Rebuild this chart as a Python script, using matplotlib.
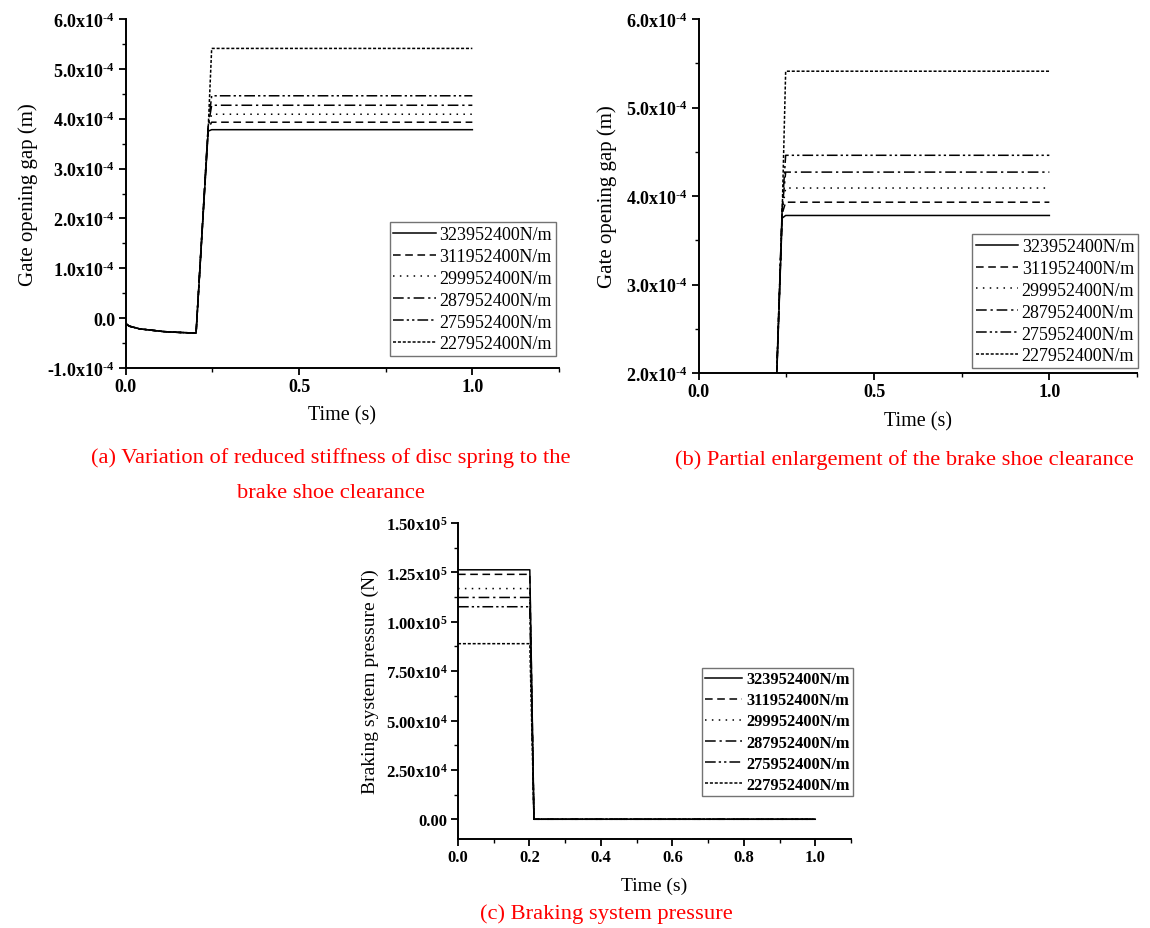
import matplotlib
matplotlib.use("Agg")
import matplotlib.pyplot as plt
from matplotlib.ticker import FixedLocator, MultipleLocator

plt.rcParams['font.family'] = ['Liberation Serif', 'DejaVu Serif']
plt.rcParams['mathtext.fontset'] = 'custom'
plt.rcParams['mathtext.rm'] = 'Liberation Serif'
plt.rcParams['mathtext.it'] = 'Liberation Serif:italic'
plt.rcParams['mathtext.bf'] = 'Liberation Serif:bold'

# ---------------- data ----------------
labels = ["323952400N/m", "311952400N/m", "299952400N/m",
          "287952400N/m", "275952400N/m", "227952400N/m"]

# gap: common pre-release phase (m)
t_pre = [0.0, 0.01, 0.04, 0.11, 0.15, 0.203]
gap_pre = [-0.11e-4, -0.16e-4, -0.215e-4, -0.27e-4, -0.285e-4, -0.30e-4]
# rise and steady
t_rise = [0.238, 0.248, 1.0]
gap_mid = [3.75e-4, 3.80e-4, 3.82e-4, 3.85e-4, 3.85e-4, 3.80e-4]
gap_steady = [3.78e-4, 3.93e-4, 4.09e-4, 4.27e-4, 4.46e-4, 5.41e-4]

# braking pressure (N)
t_press = [0.0, 0.201, 0.2126, 1.0]
press_hold = [1.263e5, 1.240e5, 1.168e5, 1.123e5, 1.076e5, 0.889e5]

styles = [
    dict(linestyle='-'),
    dict(linestyle=(0, (5, 3))),
    dict(linestyle=(0, (1, 3.5))),
    dict(linestyle=(0, (7, 2.5, 1.5, 2.5))),
    dict(linestyle=(0, (7, 2, 1.5, 2, 1.5, 2))),
    dict(linestyle=(0, (2, 1.2))),
]

E4 = "x10$^{\\mathbf{\u2010 4}}$"
ytick_a = [-1e-4, 0, 1e-4, 2e-4, 3e-4, 4e-4, 5e-4, 6e-4]
ytick_a_lab = ["-1.0" + E4, "0.0", "1.0" + E4, "2.0" + E4, "3.0" + E4, "4.0" + E4, "5.0" + E4, "6.0" + E4]
ytick_b = [2e-4, 3e-4, 4e-4, 5e-4, 6e-4]
ytick_b_lab = ["2.0" + E4, "3.0" + E4, "4.0" + E4, "5.0" + E4, "6.0" + E4]
ytick_c = [0, 2.5e4, 5e4, 7.5e4, 1e5, 1.25e5, 1.5e5]
ytick_c_lab = ["0.00", "2.50x10$^{\\mathbf{4}}$", "5.00x10$^{\\mathbf{4}}$", "7.50x10$^{\\mathbf{4}}$",
               "1.00x10$^{\\mathbf{5}}$", "1.25x10$^{\\mathbf{5}}$", "1.50x10$^{\\mathbf{5}}$"]
xtick_ab = [0.0, 0.5, 1.0]
xtick_ab_lab = ["0.0", "0.5", "1.0"]
xtick_c = [0.0, 0.2, 0.4, 0.6, 0.8, 1.0]
xtick_c_lab = ["0.0", "0.2", "0.4", "0.6", "0.8", "1.0"]

# ---------------- figure ----------------
W, H = 1150, 929
fig = plt.figure(figsize=(W / 100, H / 100), dpi=100)


def px_axes(left, top, right, bottom):
    return fig.add_axes([left / W, 1 - bottom / H, (right - left) / W, (bottom - top) / H])


def style_axes(ax, xt, xtl, yt, ytl, xminor, yminor, lsize):
    for s in ['top', 'right']:
        ax.spines[s].set_visible(False)
    for s in ['left', 'bottom']:
        ax.spines[s].set_linewidth(1.4)
    ax.xaxis.set_major_locator(FixedLocator(xt))
    ax.set_xticklabels(xtl)
    ax.yaxis.set_major_locator(FixedLocator(yt))
    ax.set_yticklabels(ytl)
    ax.xaxis.set_minor_locator(MultipleLocator(xminor))
    ax.yaxis.set_minor_locator(MultipleLocator(yminor))
    ax.tick_params(which='major', direction='out', length=5, width=1.3, labelsize=lsize, pad=2.5)
    ax.tick_params(which='minor', direction='out', length=3, width=1.0)
    for lab in ax.get_xticklabels() + ax.get_yticklabels():
        lab.set_fontweight('bold')


def gap_curve(i):
    t = t_pre + t_rise
    y = gap_pre + [gap_mid[i], gap_steady[i], gap_steady[i]]
    return t, y


def add_legend(ax, anchor, bold=False, size=13, spacing=0.27, hl=2.35, htp=0.2):
    leg = ax.legend(loc='lower right', bbox_to_anchor=anchor, borderaxespad=0,
                    frameon=True, fancybox=False, edgecolor='0.45', framealpha=1,
                    prop=dict(family='Liberation Serif', size=size,
                              weight='bold' if bold else 'normal'),
                    handlelength=hl, handletextpad=htp,
                    labelspacing=spacing, borderpad=0.2)
    leg.get_frame().set_linewidth(1.0)
    return leg


# (a)
axa = px_axes(125.7, 20, 559, 369)
for i in range(6):
    t, y = gap_curve(i)
    axa.plot(t, y, color='black', lw=1.1, label=labels[i], **styles[i])
axa.set_xlim(0, 1.25)
axa.set_ylim(-1e-4, 6e-4)
style_axes(axa, xtick_ab, xtick_ab_lab, ytick_a, ytick_a_lab, 0.25, 0.5e-4, 13)
axa.set_xlabel("Time (s)", fontsize=14.5, labelpad=7)
axa.set_ylabel("Gate opening gap (m)", fontsize=15, labelpad=7)
add_legend(axa, ((555.6 - 125.7) / (559 - 125.7), (369 - 357) / 349))

# (b)
axb = px_axes(698.7, 20, 1137, 374)
for i in range(6):
    t, y = gap_curve(i)
    axb.plot(t, y, color='black', lw=1.1, label=labels[i], **styles[i])
axb.set_xlim(0, 1.25)
axb.set_ylim(2e-4, 6e-4)
style_axes(axb, xtick_ab, xtick_ab_lab, ytick_b, ytick_b_lab, 0.25, 0.5e-4, 13)
axb.set_xlabel("Time (s)", fontsize=14.5, labelpad=8)
axb.set_ylabel("Gate opening gap (m)", fontsize=15, labelpad=7)
add_legend(axb, (1.002, (374 - 369) / 354))

# (c)
axc = px_axes(458, 524, 851, 840)
for i in range(6):
    y = [press_hold[i], press_hold[i], 0.0, 0.0]
    axc.plot(t_press, y, color='black', lw=1.1, label=labels[i], **styles[i])
axc.set_xlim(0, 1.1)
axc.set_ylim(-1e4, 1.5e5)
style_axes(axc, xtick_c, xtick_c_lab, ytick_c, ytick_c_lab, 0.1, 1.25e4, 12)
axc.set_xlabel("Time (s)", fontsize=14, labelpad=8)
axc.set_ylabel("Braking system pressure (N)", fontsize=14, labelpad=5)
add_legend(axc, ((853.4 - 458) / (851 - 458), (840 - 797) / 316), bold=True,
           size=11.8, spacing=0.31, hl=2.27, htp=0.26)

# captions
cap = dict(color='red', fontsize=16.2, ha='center', va='center', family='Liberation Serif')
fig.text(331 / W, 1 - 458 / H, "(a) Variation of reduced stiffness of disc spring to the", **cap)
fig.text(331 / W, 1 - 494 / H, "brake shoe clearance", **cap)
fig.text(904 / W, 1 - 460 / H, "(b) Partial enlargement of the brake shoe clearance", **cap)
fig.text(606 / W, 1 - 914 / H, "(c) Braking system pressure", **cap)

fig.savefig("out.png", dpi=100)
